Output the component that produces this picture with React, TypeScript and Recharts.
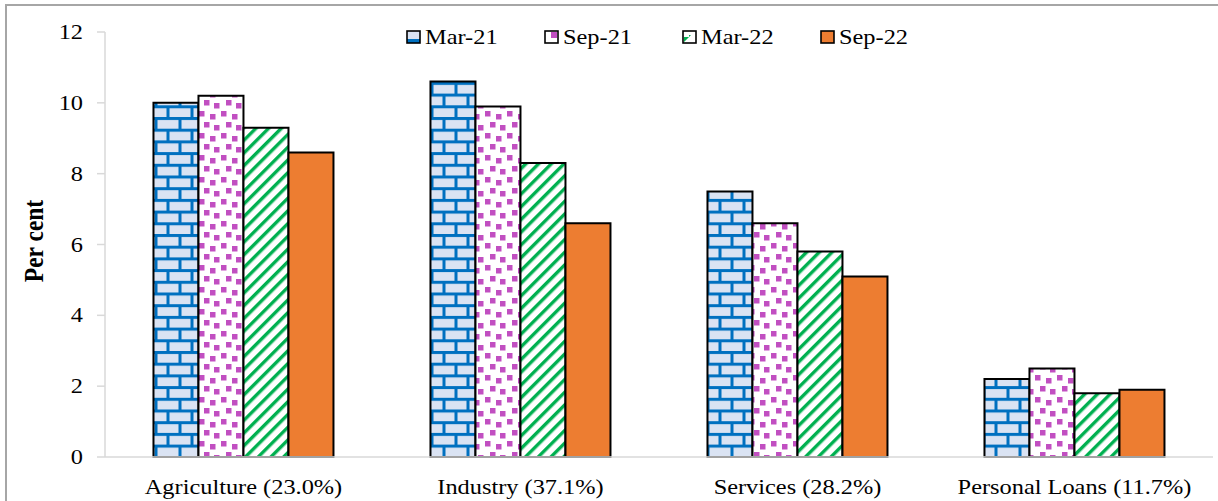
import React from 'react';
import { BarChart, Bar, XAxis, YAxis, Legend } from 'recharts';

const categories = ['Agriculture (23.0%)', 'Industry (37.1%)', 'Services (28.2%)', 'Personal Loans (11.7%)'];
const mar21 = [10.0, 10.6, 7.5, 2.2];
const sep21 = [10.2, 9.9, 6.6, 2.5];
const mar22 = [9.3, 8.3, 5.8, 1.8];
const sep22 = [8.6, 6.6, 5.1, 1.9];
const seriesNames = ['Mar-21', 'Sep-21', 'Mar-22', 'Sep-22'];
const yTicks = [0, 2, 4, 6, 8, 10, 12];
const boundaryTicks = [0, 1, 2, 3, 4];

const data = categories.map((c, i) => ({
  name: c,
  idx: i,
  mar21: mar21[i],
  sep21: sep21[i],
  mar22: mar22[i],
  sep22: sep22[i],
}));

const FONT = '"Liberation Serif", "Times New Roman", serif';
const SX = 1.16;

const XTick = (props: any) => {
  const { x, y, payload } = props;
  return (
    <text
      transform={`translate(${x},${y}) scale(${SX},1)`}
      textAnchor="middle"
      dy={37}
      fontFamily={FONT}
      fontSize={21}
      fill="#000"
    >
      {payload.value}
    </text>
  );
};

const YTick = (props: any) => {
  const { x, y, payload } = props;
  return (
    <text
      transform={`translate(${x},${y}) scale(${SX},1)`}
      textAnchor="end"
      dy={7}
      fontFamily={FONT}
      fontSize={21}
      fill="#000"
    >
      {payload.value}
    </text>
  );
};

const Icon = ({ i }: { i: number }) => {
  return (
    <svg width={16} height={14} style={{ display: 'block' }}>
      {i === 0 && (
        <g>
          <rect x={1} y={1} width={13} height={12} fill="#dae3f3" />
          <rect x={1} y={9} width={13} height={4} fill="#0070c0" />
        </g>
      )}
      {i === 1 && (
        <g>
          <rect x={1} y={1} width={13} height={12} fill="#fff" />
          <rect x={7} y={2} width={6} height={6} fill="#c14fc1" />
        </g>
      )}
      {i === 2 && (
        <g>
          <rect x={1} y={1} width={13} height={12} fill="#fff" />
          <polygon points="2,12 2,7 7,7 7,5 9,5" fill="#00b050" />
        </g>
      )}
      {i === 3 && <rect x={1} y={1} width={13} height={12} fill="#ed7d31" />}
      <rect x={1} y={1} width={13} height={12} fill="none" stroke="#000" strokeWidth={1.6} />
    </svg>
  );
};

const LegendContent = () => (
  <div style={{ display: 'flex', fontFamily: FONT, fontSize: 21, color: '#000' }}>
    {seriesNames.map((n, i) => (
      <div key={n} style={{ width: 138, display: 'flex', alignItems: 'center' }}>
        <Icon i={i} />
        <span
          style={{
            marginLeft: 3,
            display: 'inline-block',
            transform: `scaleX(${SX})`,
            transformOrigin: 'left center',
            lineHeight: '24px',
          }}
        >
          {n}
        </span>
      </div>
    ))}
  </div>
);

const YLabel = () => (
  <text
    transform={`translate(43,241) scale(${SX},1) rotate(-90)`}
    textAnchor="middle"
    fontFamily={FONT}
    fontSize={23.5}
    fontWeight="bold"
    fill="#000"
  >
    Per cent
  </text>
);

export default function App() {
  return (
    <div style={{ position: 'absolute', left: 0, top: 0, width: 1218, height: 501, overflow: 'hidden', background: '#fff' }}>
      <div
        style={{
          position: 'absolute',
          left: 5,
          top: 4,
          width: 1240,
          height: 520,
          border: '2px solid #a6a6a6',
        }}
      />
      <div style={{ position: 'absolute', left: 0, top: 0 }}>
        <BarChart
          width={1218}
          height={501}
          data={data}
          margin={{ top: 32, right: 5, bottom: 0, left: 0 }}
          barCategoryGap="17.5%"
          barGap={0}
        >
          <defs>
            <pattern id="brick" patternUnits="userSpaceOnUse" width={24} height={23.4}>
              <rect width={24} height={23.4} fill="#dae3f3" />
              <rect x={0} y={0} width={24} height={3} fill="#0070c0" />
              <rect x={0} y={11.7} width={24} height={3} fill="#0070c0" />
              <rect x={10.5} y={0} width={3} height={11.7} fill="#0070c0" />
              <rect x={0} y={11.7} width={1.5} height={11.7} fill="#0070c0" />
              <rect x={22.5} y={11.7} width={1.5} height={11.7} fill="#0070c0" />
            </pattern>
            <pattern id="confetti" patternUnits="userSpaceOnUse" width={22} height={22}>
              <rect width={22} height={22} fill="#fff" />
              <rect x={1} y={1} width={5.5} height={5.5} fill="#c14fc1" />
              <rect x={12} y={4} width={5.5} height={5.5} fill="#c14fc1" />
              <rect x={6} y={12} width={5.5} height={5.5} fill="#c14fc1" />
              <rect x={16} y={15} width={5.5} height={5.5} fill="#c14fc1" />
            </pattern>
            <pattern id="diag" patternUnits="userSpaceOnUse" width={9} height={9} patternTransform="rotate(45)">
              <rect width={9} height={9} fill="#fff" />
              <rect x={0} y={0} width={3.4} height={9} fill="#00b050" />
            </pattern>
          </defs>
          <XAxis
            xAxisId="grid"
            dataKey="idx"
            type="number"
            domain={[0, 4]}
            allowDataOverflow
            ticks={boundaryTicks}
            tickFormatter={() => ''}
            height={0}
            tickSize={9}
            axisLine={false}
            tickLine={{ stroke: '#d9d9d9', strokeWidth: 1.5 }}
          />
          <XAxis
            dataKey="name"
            height={44}
            tickSize={0}
            tickMargin={0}
            tickLine={false}
            axisLine={{ stroke: '#d9d9d9', strokeWidth: 1.5 }}
            tick={<XTick />}
            interval={0}
          />
          <YAxis
            width={105}
            domain={[0, 12]}
            ticks={yTicks}
            tickSize={8}
            tickMargin={14}
            axisLine={{ stroke: '#d9d9d9', strokeWidth: 1.5 }}
            tickLine={{ stroke: '#d9d9d9', strokeWidth: 1.5 }}
            tick={<YTick />}
            label={<YLabel />}
          />
          <Legend
            layout="horizontal"
            verticalAlign="middle"
            align="center"
            content={<LegendContent />}
            wrapperStyle={{ top: 25, left: 406, width: 560, height: 24 }}
          />
          <Bar dataKey="mar21" name="Mar-21" fill="url(#brick)" stroke="#000" strokeWidth={2} isAnimationActive={false} />
          <Bar dataKey="sep21" name="Sep-21" fill="url(#confetti)" stroke="#000" strokeWidth={2} isAnimationActive={false} />
          <Bar dataKey="mar22" name="Mar-22" fill="url(#diag)" stroke="#000" strokeWidth={2} isAnimationActive={false} />
          <Bar dataKey="sep22" name="Sep-22" fill="#ed7d31" stroke="#000" strokeWidth={2} isAnimationActive={false} />
        </BarChart>
      </div>
    </div>
  );
}
